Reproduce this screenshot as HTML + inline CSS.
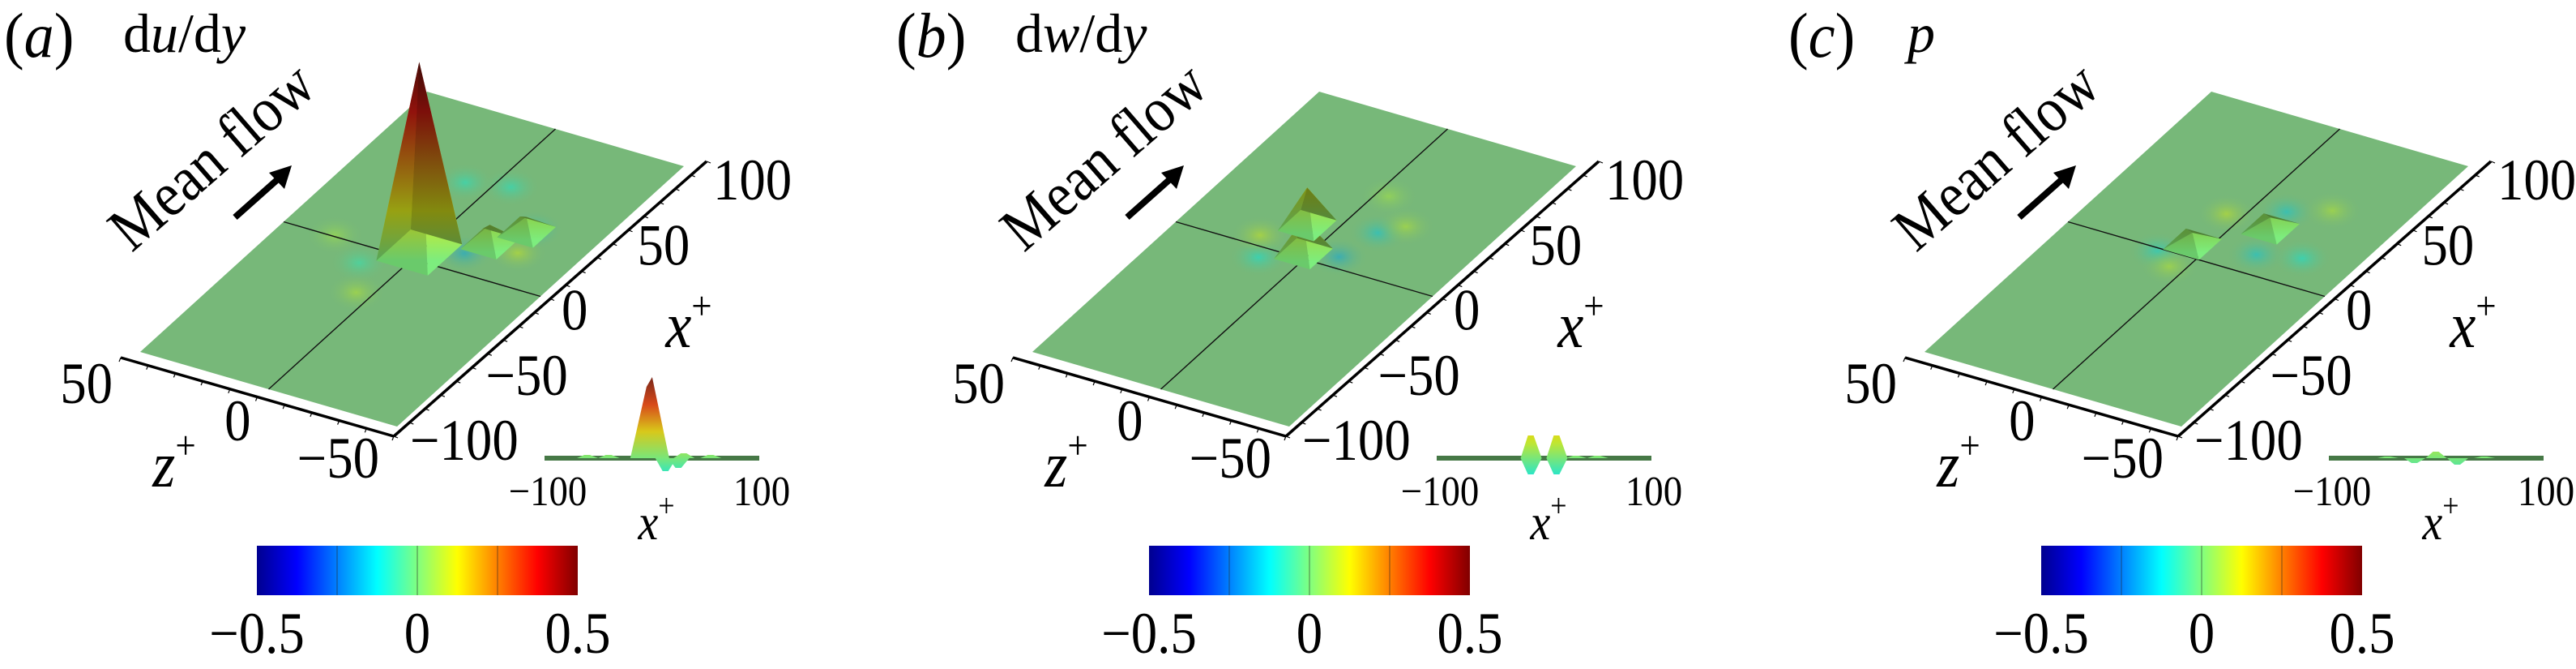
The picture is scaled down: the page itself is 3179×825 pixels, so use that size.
<!DOCTYPE html>
<html><head><meta charset="utf-8"><style>
html,body{margin:0;padding:0;background:#fff;}
svg, svg text{font-family:"Liberation Serif","DejaVu Serif",serif;}
svg{display:block;}
</style></head><body>
<svg id="fig" width="3179" height="825" viewBox="0 0 3179 825" xmlns="http://www.w3.org/2000/svg" font-family="Liberation Serif, serif">
<defs>
<linearGradient id="jetbar" x1="0" y1="0" x2="1" y2="0">
<stop offset="0" stop-color="#00008f"/><stop offset="0.125" stop-color="#0000ff"/>
<stop offset="0.375" stop-color="#00ffff"/><stop offset="0.5" stop-color="#80ff80"/>
<stop offset="0.625" stop-color="#ffff00"/><stop offset="0.875" stop-color="#ff0000"/>
<stop offset="1" stop-color="#800000"/></linearGradient>
</defs>
</svg>
<script>
const panelOffsets = [0, 1101, 2202];
const panelLetters = ['a', 'b', 'c'];
const xTicks = [-100, -50, 0, 50, 100];
const zTicks = [-50, 0, 50];
const cbTicks = [-0.5, 0, 0.5];
// sharp peaks (x+, z+, value)
const peakX = [[5, 22, 35], [3, 20], [8, 30]];
const peakZ = [[0, -18, -25], [2, 10], [6, -12]];
const peakV = [[0.5, 0.05, 0.04], [0.09, 0.1], [0.03, 0.03]];
// soft blobs (x+, z+, value)
const blobX = [[15, -10, 40, 55, 20, -30, 60, 0], [10, 30, 35, -5, 5, 50], [15, 45, 0, 30, -10, 50, 20]];
const blobZ = [[-12, 15, -25, 10, -30, 5, -5, 30], [-8, -12, -20, 15, 20, -5], [-15, -10, 15, 5, 5, -25, -30]];
const blobV = [[-0.1, -0.04, -0.08, -0.05, 0.05, 0.04, -0.05, 0.03], [-0.1, -0.08, 0.04, -0.06, 0.05, 0.03], [-0.08, -0.08, -0.07, 0.05, 0.04, 0.04, -0.06]];
// inset side-view spikes (x+, value)
const insetX = [[-2, 13, 25, -60, -40, 30, 55], [-12, 12, -12, 12, 30, 50], [0, -20, 20, -45, 45]];
const insetV = [[0.5, -0.08, -0.06, 0.02, 0.02, 0.03, 0.02], [0.14, 0.14, -0.1, -0.1, 0.015, 0.015], [0.04, -0.03, -0.04, 0.01, 0.01]];

const NS = 'http://www.w3.org/2000/svg';
const FONT = '"Liberation Serif", "DejaVu Serif", serif';
const svg = document.getElementById('fig');
const defs = svg.querySelector('defs');
let gid = 0;
function mk(tag, attrs, parent) {
  const e = document.createElementNS(NS, tag);
  for (const k in attrs) e.setAttribute(k, attrs[k]);
  (parent || svg).appendChild(e);
  return e;
}
function jet(v) {
  let t = Math.max(0, Math.min(1, v + 0.5));
  const r = Math.max(0, Math.min(1, Math.min(4 * t - 1.5, -4 * t + 4.5)));
  const g = Math.max(0, Math.min(1, Math.min(4 * t - 0.5, -4 * t + 3.5)));
  const b = Math.max(0, Math.min(1, Math.min(4 * t + 0.5, -4 * t + 2.5)));
  return [r * 255, g * 255, b * 255];
}
function muted(v, k) {
  const c = jet(v), base = [118, 184, 120];
  const m = k === undefined ? 0.45 : k;
  return 'rgb(' + c.map((x, i) => Math.round(x * (1 - m) + base[i] * m * 0.85)).join(',') + ')';
}
const A = [173, 434], EX = [354, -321], EZ = [317, 92], H = 470;
function P(ox, x, z) {
  const u = (x + 100) / 200, v = (50 - z) / 100;
  return [ox + A[0] + u * EX[0] + v * EZ[0], A[1] + u * EX[1] + v * EZ[1]];
}
function txt(s, x, y, size, anchor, name, italic, g, sx) {
  const t = mk('text', {x: 0, y: 0, 'font-size': size, 'text-anchor': anchor || 'middle',
    transform: 'translate(' + x + ',' + y + ') scale(' + (sx || 0.9) + ',1)'}, g);
  t.style.fontFamily = FONT;
  if (italic) t.setAttribute('font-style', 'italic');
  
  
  t.innerHTML = s;
  return t;
}
function fmt(n) { return n < 0 ? '\u2212' + Math.abs(n) : '' + n; }

panelOffsets.forEach((ox, pi) => {
  const g = mk('g', {});
  
  
  txt('(<tspan font-style="italic">' + panelLetters[pi] + '</tspan>)', ox + 5, 70, 78, 'start', 'panel-label', false, g, 0.95);
  let ttl;
  if (pi === 0) ttl = 'd<tspan font-style="italic">u</tspan>/d<tspan font-style="italic">y</tspan>';
  else if (pi === 1) ttl = 'd<tspan font-style="italic">w</tspan>/d<tspan font-style="italic">y</tspan>';
  else ttl = '<tspan font-style="italic">p</tspan>';
  txt(ttl, ox + 152, 64, 68, 'start', 'variable-title', false, g, 1.0);

  const c = [P(ox, -100, 50), P(ox, -100, -50), P(ox, 100, -50), P(ox, 100, 50)];
  const plate = mk('polygon', {points: c.map(p => p.join(',')).join(' '), fill: 'rgb(119,184,121)'}, g);
  
  

  blobX[pi].forEach((bx, i) => {
    const p = P(ox, bx, blobZ[pi][i]);
    const id = 'rg' + (gid++);
    const rg = mk('radialGradient', {id: id}, defs);
    mk('stop', {offset: '0', 'stop-color': muted(blobV[pi][i] * 2, 0.4), 'stop-opacity': '0.75'}, rg);
    mk('stop', {offset: '1', 'stop-color': 'rgb(119,184,121)', 'stop-opacity': '0'}, rg);
    const e = mk('ellipse', {cx: p[0], cy: p[1] - blobV[pi][i] * 60, rx: 36, ry: 24, fill: 'url(#' + id + ')'}, g);
    
    
  });

  const l1 = mk('line', {x1: P(ox, -100, 0)[0], y1: P(ox, -100, 0)[1], x2: P(ox, 100, 0)[0], y2: P(ox, 100, 0)[1], stroke: '#111', 'stroke-width': 1.4}, g);
  
  
  const l2 = mk('line', {x1: P(ox, 0, 50)[0], y1: P(ox, 0, 50)[1], x2: P(ox, 0, -50)[0], y2: P(ox, 0, -50)[1], stroke: '#111', 'stroke-width': 1.4}, g);
  
  

  peakX[pi].forEach((px, i) => {
    const pz = peakZ[pi][i], v = peakV[pi][i];
    const dx = v > 0.2 ? 12 : 8, dz = v > 0.2 ? 10 : 7;
    const apex0 = P(ox, px, pz);
    const apex = [apex0[0], apex0[1] - v * H];
    const b = [P(ox, px - dx, pz + dz), P(ox, px + dx, pz + dz), P(ox, px + dx, pz - dz), P(ox, px - dx, pz - dz)];
    const order = [[3, 0], [0, 1], [2, 3], [1, 2]];
    const shade = [0.85, 0.7, 1.0, 0.6];
    order.forEach((f, k) => {
      const id = 'lg' + (gid++);
      const lg = mk('linearGradient', {id: id, gradientUnits: 'userSpaceOnUse', x1: 0, y1: apex[1], x2: 0, y2: apex0[1] + 10}, defs);
      [1, 0.75, 0.5, 0.25, 0].forEach(s => {
        const col = jet(v * s);
        const mix = col.map((x, j) => Math.round((x * 0.75 + [118, 184, 120][j] * 0.25 * (1 - s * 0.6)) * shade[k]));
        mk('stop', {offset: 1 - s, 'stop-color': 'rgb(' + mix.join(',') + ')'}, lg);
      });
      const tri = mk('polygon', {points: [b[f[0]], b[f[1]], apex].map(p => p.join(',')).join(' '), fill: 'url(#' + id + ')'}, g);
      
      
    });
  });

  const z0 = P(ox, -100, 50), z1 = P(ox, -100, -50);
  const za = [[z0[0] - 24, z0[1] + 7], [z1[0] - 4, z1[1] + 12]];
  const zl = mk('line', {x1: za[0][0], y1: za[0][1], x2: za[1][0], y2: za[1][1], stroke: '#000', 'stroke-width': 3.5}, g);
  
  
  for (let k = 0; k <= 10; k++) {
    const t = k / 10, x = za[0][0] + t * (za[1][0] - za[0][0]), y = za[0][1] + t * (za[1][1] - za[0][1]);
    mk('line', {x1: x, y1: y, x2: x - 2, y2: y + 5, stroke: '#000', 'stroke-width': 1.2}, g);
  }
  zTicks.forEach(zt => {
    const p = P(ox, -100, zt);
    txt(fmt(zt), p[0] - 22 - (zt > 25 ? 12 : 0), p[1] + 63, 72, 'end', 'z-tick-label', false, g);
  });
  txt('z<tspan font-size="50" dy="-34" font-style="normal">+</tspan>', ox + 215, 600, 80, 'middle', 'z-axis-title', true, g);

  const x0 = [z1[0] - 4, z1[1] + 12], xe = P(ox, 100, -50);
  const xa = [x0, [xe[0] + 28, xe[1] - 6]];
  const xl = mk('line', {x1: xa[0][0], y1: xa[0][1], x2: xa[1][0], y2: xa[1][1], stroke: '#000', 'stroke-width': 3.5}, g);
  
  
  for (let k = 0; k <= 20; k++) {
    const t = k / 20, x = xa[0][0] + t * (xa[1][0] - xa[0][0]), y = xa[0][1] + t * (xa[1][1] - xa[0][1]);
    mk('line', {x1: x, y1: y, x2: x + 5, y2: y + 2, stroke: '#000', 'stroke-width': 1.2}, g);
  }
  xTicks.forEach(xt => {
    const p = P(ox, xt, -50);
    txt(fmt(xt), p[0] + 16 + (xt + 100) / 200 * 20, p[1] + 41, 72, 'start', 'x-tick-label', false, g);
  });
  txt('x<tspan font-size="50" dy="-34" font-style="normal">+</tspan>', ox + 850, 428, 80, 'middle', 'x-axis-title', true, g);

  const mf = mk('text', {x: 0, y: 0, 'font-size': 78, 'text-anchor': 'middle', transform: 'translate(' + (ox + 278) + ',' + 212 + ') rotate(-41) scale(0.9,1)'}, g);
  mf.style.fontFamily = FONT;
  
  
  mf.textContent = 'Mean flow';
  const ar = mk('g', {}, g);
  
  
  mk('line', {x1: ox + 290, y1: 268, x2: ox + 344, y2: 220, stroke: '#000', 'stroke-width': 8}, ar);
  mk('polygon', {points: (ox + 360) + ',204 ' + (ox + 332) + ',213 ' + (ox + 351) + ',233', fill: '#000'}, ar);

  const ig = mk('g', {}, g);
  
  
  const IX0 = ox + 672, IX1 = ox + 937, IY = 565, IH = 200;
  const ixs = x => IX0 + (x + 100) / 200 * (IX1 - IX0);
  mk('rect', {x: IX0, y: IY - 3, width: IX1 - IX0, height: 6, fill: 'rgb(70,120,70)'}, ig);
  insetX[pi].forEach((sx, i) => {
    const v = insetV[pi][i], cx = ixs(sx), w = Math.abs(v) > 0.2 ? 24 : 13;
    const id = 'ig' + (gid++);
    const lg = mk('linearGradient', {id: id, x1: 0, y1: v > 0 ? 0 : 1, x2: 0, y2: v > 0 ? 1 : 0}, defs);
    [1, 0.66, 0.33, 0].forEach(s => mk('stop', {offset: 1 - s, 'stop-color': muted(v * s, 0.25)}, lg));
    const tri = mk('polygon', {points: (cx - w) + ',' + IY + ' ' + (cx + w) + ',' + IY + ' ' + (cx + 3) + ',' + (IY - v * IH) + ' ' + (cx - 4) + ',' + (IY - v * IH + (v > 0.2 ? 12 : 0)), fill: 'url(#' + id + ')'}, ig);
    
    
  });
  txt('\u2212100', IX0 + 4, 623, 52, 'middle', 'inset-x-tick-label', false, g);
  txt('100', IX1 + 3, 623, 52, 'middle', 'inset-x-tick-label', false, g);
  txt('x<tspan font-size="40" dy="-28" font-style="normal">+</tspan>', ox + 810, 665, 62, 'middle', 'inset-x-title', true, g);

  const cb = mk('rect', {x: ox + 317, y: 673, width: 396, height: 61, fill: 'url(#jetbar)'}, g);
  
  
  [-0.25, 0, 0.25].forEach(v => {
    const x = ox + 317 + (v + 0.5) * 396;
    mk('line', {x1: x, y1: 673, x2: x, y2: 734, stroke: 'rgba(40,40,40,0.6)', 'stroke-width': 1}, g);
  });
  cbTicks.forEach(v => {
    txt(fmt(v), ox + 317 + (v + 0.5) * 396, 805, 72, 'middle', 'colorbar-tick-label', false, g);
  });
});
</script>
</body></html>
